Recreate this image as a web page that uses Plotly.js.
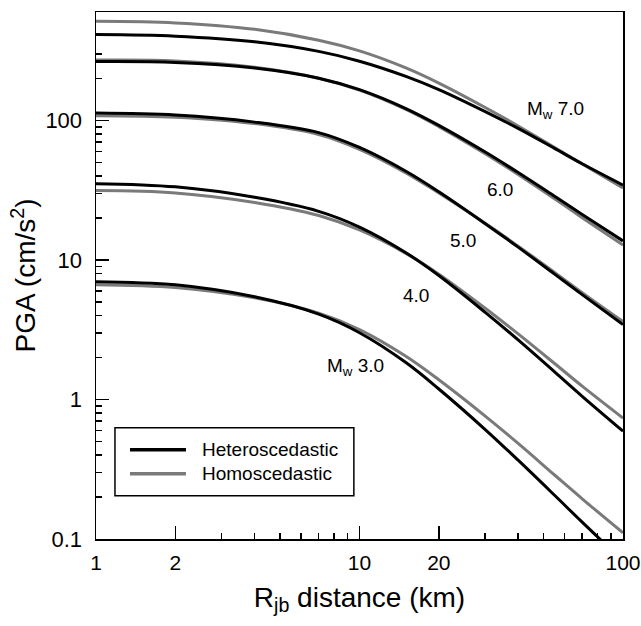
<!DOCTYPE html>
<html>
<head>
<meta charset="utf-8">
<script src="https://cdn.plot.ly/plotly-3.0.1.min.js"></script>
<style>html,body{margin:0;padding:0;background:#fff;}#chart{width:641px;height:626px;}</style>
</head>
<body>
<div id="chart"></div>
<script>
// Distance values (km) at which curves were read
var distance = [1, 2, 4, 7, 10, 15, 20, 30, 40, 55, 70, 100];

// Heteroscedastic model (black), PGA in cm/s^2
var het_M7 = [412.2, 401.5, 365.9, 312.4, 265.7, 206.8, 166.3, 115.6, 87.6, 63.0, 48.9, 34.4];
var het_M6 = [264.0, 260.5, 237.5, 200.7, 166.0, 121.5, 92.1, 59.3, 42.3, 28.6, 21.2, 13.7];
var het_M5 = [112.8, 109.2, 97.2, 81.8, 64.0, 43.2, 30.8, 18.2, 12.36, 7.91, 5.64, 3.44];
var het_M4 = [35.2, 33.4, 28.1, 22.3, 17.2, 11.26, 7.73, 4.21, 2.67, 1.577, 1.054, 0.593];
var het_M3 = [6.99, 6.63, 5.44, 4.09, 3.01, 1.839, 1.189, 0.609, 0.367, 0.2057, 0.132, 0.0695];

// Homoscedastic model (grey), PGA in cm/s^2
var hom_M7 = [513.4, 500.0, 449.8, 375.7, 315.0, 237.8, 185.1, 123.7, 91.2, 63.9, 48.7, 32.8];
var hom_M6 = [270.6, 267.1, 240.3, 200.7, 164.9, 119.9, 90.3, 57.7, 40.9, 27.4, 20.1, 12.8];
var hom_M5 = [108.2, 105.4, 94.9, 79.3, 62.1, 42.1, 30.2, 18.3, 12.56, 8.14, 5.83, 3.62];
var hom_M4 = [31.4, 30.2, 25.8, 20.8, 16.4, 11.15, 7.91, 4.51, 2.95, 1.81, 1.245, 0.735];
var hom_M3 = [6.65, 6.35, 5.35, 4.15, 3.17, 2.04, 1.384, 0.760, 0.484, 0.2876, 0.1942, 0.1108];

var seriesNames = ['Heteroscedastic', 'Homoscedastic'];
var magLabels = ['M<sub>w</sub> 7.0', '6.0', '5.0', '4.0', 'M<sub>w</sub> 3.0'];

var xTickVals = [1, 2, 10, 20, 100];
var xTickText = ['1', '2', '10', '20', '100'];
var xMinorVals = [3, 4, 5, 6, 7, 8, 9, 30, 40, 50, 60, 70, 80, 90];
var yTickVals = [0.1, 1, 10, 100];
var yTickText = ['0.1', '1', '10', '100'];
var yMinorVals = [0.2, 0.3, 0.4, 0.5, 0.6, 0.7, 0.8, 0.9, 2, 3, 4, 5, 6, 7, 8, 9, 20, 30, 40, 50, 60, 70, 80, 90, 200, 300];

var FONT = 'Liberation Sans, Arial, Helvetica, sans-serif';
var BLACK = '#000000';
var GREY = '#7a7a7a';

var hom = [hom_M7, hom_M6, hom_M5, hom_M4, hom_M3];
var het = [het_M7, het_M6, het_M5, het_M4, het_M3];
var traces = [];
hom.forEach(function (ys) {
  traces.push({
    x: distance, y: ys, type: 'scatter', mode: 'lines',
    line: {color: GREY, width: 3, shape: 'spline'},
    name: seriesNames[1], showlegend: false, hoverinfo: 'skip'
  });
});
het.forEach(function (ys) {
  traces.push({
    x: distance, y: ys, type: 'scatter', mode: 'lines',
    line: {color: BLACK, width: 3, shape: 'spline'},
    name: seriesNames[0], showlegend: false, hoverinfo: 'skip'
  });
});

// label anchor positions (log10 units on log axes)
var labelPos = [[1.744, 2.077], [1.532, 1.508], [1.394, 1.138], [1.2135, 0.744], [0.986, 0.235]];
var annotations = magLabels.map(function (t, i) {
  return {
    text: t, x: labelPos[i][0], y: labelPos[i][1], xref: 'x', yref: 'y',
    showarrow: false, font: {family: FONT, size: 19, color: '#000'},
    xanchor: 'center', yanchor: 'middle'
  };
});

// legend (drawn in paper coordinates)
var legBox = {x0: 0.036, x1: 0.4893, y0: 0.0822, y1: 0.2112};
var legRows = [{y: 0.1695, color: BLACK, name: seriesNames[0]}, {y: 0.1239, color: GREY, name: seriesNames[1]}];
var shapes = [{
  type: 'rect', xref: 'paper', yref: 'paper',
  x0: legBox.x0, x1: legBox.x1, y0: legBox.y0, y1: legBox.y1,
  line: {color: '#000', width: 1.5}, fillcolor: '#fff', layer: 'above'
}];
legRows.forEach(function (r) {
  shapes.push({
    type: 'line', xref: 'paper', yref: 'paper',
    x0: 0.0645, x1: 0.1707, y0: r.y, y1: r.y,
    line: {color: r.color, width: 3.5}, layer: 'above'
  });
  annotations.push({
    text: r.name, xref: 'paper', yref: 'paper', x: 0.1972, y: r.y,
    xanchor: 'left', yanchor: 'middle', showarrow: false,
    font: {family: FONT, size: 19, color: '#000'}
  });
});

var layout = {
  width: 641, height: 626,
  margin: {l: 96, r: 18, t: 12, b: 87, pad: 0},
  paper_bgcolor: '#fff', plot_bgcolor: '#fff',
  font: {family: FONT, size: 21, color: '#000'},
  showlegend: false,
  xaxis: {
    type: 'log', range: [0, 2],
    showgrid: false, zeroline: false,
    showline: true, linecolor: '#000', linewidth: 1.5, mirror: true,
    ticks: 'inside', ticklen: 13, tickwidth: 1.5, tickcolor: '#000',
    tickmode: 'array', tickvals: xTickVals, ticktext: xTickText,
    tickfont: {family: FONT, size: 21, color: '#000'},
    ticklabelstandoff: 4,
    minor: {tickmode: 'array', tickvals: xMinorVals, ticks: 'inside', ticklen: 6, tickwidth: 1.5, tickcolor: '#000', showgrid: false},
    title: {text: 'R<sub>jb</sub> distance (km)', font: {family: FONT, size: 28, color: '#000'}, standoff: 14}
  },
  yaxis: {
    type: 'log', range: [-1, 2.777],
    showgrid: false, zeroline: false,
    showline: true, linecolor: '#000', linewidth: 1.5, mirror: true,
    ticks: 'inside', ticklen: 13, tickwidth: 1.5, tickcolor: '#000',
    tickmode: 'array', tickvals: yTickVals, ticktext: yTickText,
    tickfont: {family: FONT, size: 22, color: '#000'},
    ticklabelstandoff: 8,
    minor: {tickmode: 'array', tickvals: yMinorVals, ticks: 'inside', ticklen: 6, tickwidth: 1.5, tickcolor: '#000', showgrid: false},
    title: {text: 'PGA (cm/s<sup>2</sup>)', font: {family: FONT, size: 28, color: '#000'}, standoff: 1}
  },
  shapes: shapes,
  annotations: annotations
};

Plotly.newPlot('chart', traces, layout, {staticPlot: true, displayModeBar: false});
</script>
</body>
</html>
